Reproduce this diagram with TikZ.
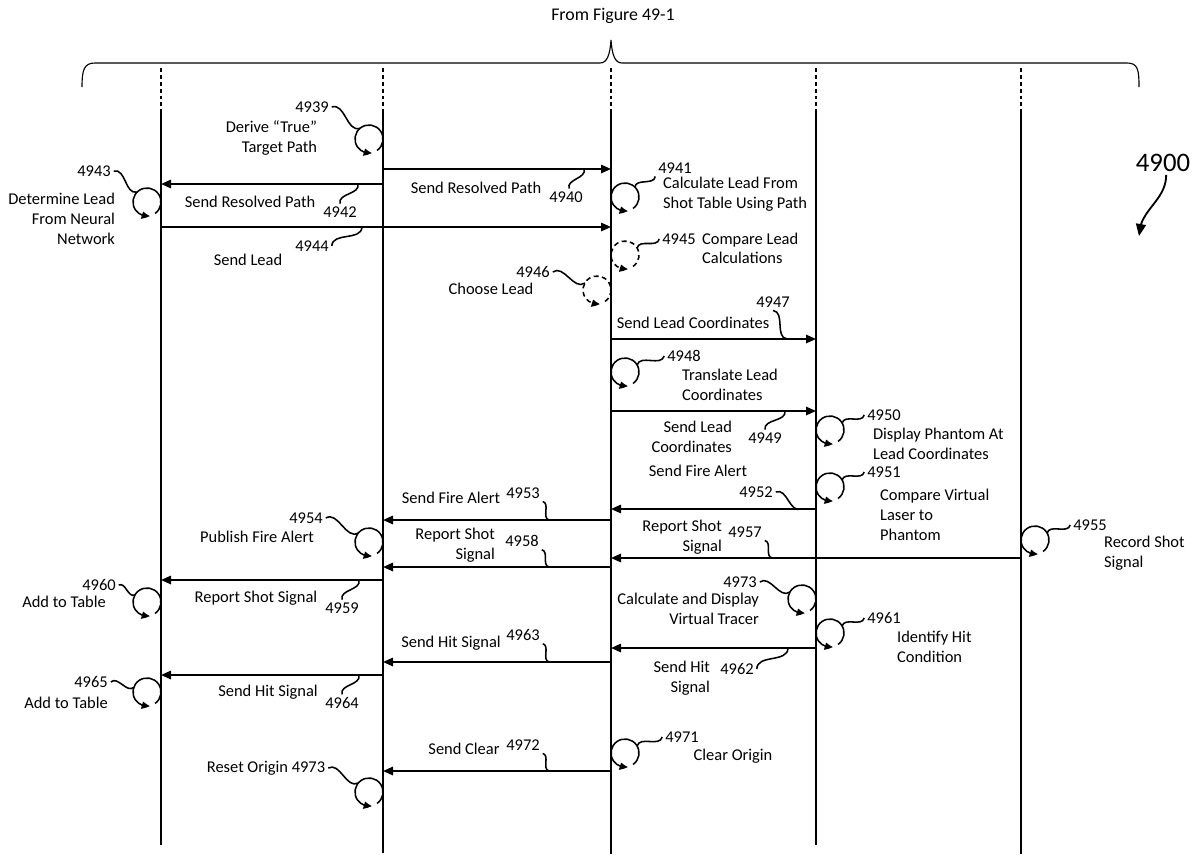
\documentclass[tikz,border=0pt]{standalone}
\usepackage{fontspec}
\setmainfont{Carlito}
\usetikzlibrary{arrows.meta,bending,calc}
\tikzset{
  >=Triangle,
  lbl/.style={font=\fontsize{11.7}{14}\selectfont, inner sep=2pt},
  bignum/.style={font=\fontsize{19}{22}\selectfont, inner sep=2pt},
  lifedash/.style={line width=0.8pt, dash pattern=on 2.8pt off 2.1pt},
  life/.style={line width=0.8pt},
  msg/.style={-{Triangle[length=0.25cm,width=0.21cm]}, line width=1.3pt},
  spot/.style={circle, minimum size=0.7cm, inner sep=0pt, outer sep=0pt},
  loopline/.style={-{Triangle[length=0.2cm,width=0.18cm,bend]}, line width=1.1pt},
  maybe/.style={dash pattern=on 3.5pt off 2.5pt},
  lead/.style={line width=1.1pt},
  brace/.style={line width=0.8pt}
}
\newcommand{\sendmsg}[3]{\draw[msg] (#1 |- 0,-#3) -- (#2 |- 0,-#3);}
\newcommand{\selfloop}[3][]{%
  \node[spot] (#2) at (#3) {};
  \draw[loopline,#1] (#2.-55) arc[start angle=-55, end angle=282, radius=0.35cm];}
\newcommand{\leader}[2]{%
  \draw[lead] (#1) .. controls ($(#1)!0.4!55:(#2)$) and ($(#2)!0.4!55:(#1)$) .. (#2);}

\begin{document}
\begin{tikzpicture}[x=0.025cm, y=0.025cm]
\useasboundingbox (0,0) rectangle (1201,-854);

% lifelines
\foreach \name/\x/\yend in {L1/161/845, L2/383/853, L3/611/854, L4/816/845, L5/1021/854} {
  \coordinate (\name) at (\x,-68);
  \coordinate (\name end) at (\x,-\yend);
  \draw[lifedash] (\name) -- (\x,-113);
  \draw[life] (\x,-113) -- (\name end);
}

% brace from previous sheet
\node[lbl, font=\fontsize{12.7}{15}\selectfont] (fig) at (613,-16) {From Figure 49-1};
\draw[brace] (82,-87) .. controls (82,-70) and (84,-63) .. (95,-63) -- (600,-63)
  .. controls (607,-63) and (610,-55) .. (611,-40)
  .. controls (612,-55) and (615,-63) .. (622,-63) -- (1127,-63)
  .. controls (1138,-63) and (1139,-70) .. (1139,-87);

\node[bignum] (n4900) at (1163,-163) {4900};
\coordinate (a4900) at (1139,-236);
\draw[-{Triangle[length=0.3cm,width=0.25cm]}, line width=1.3pt] (n4900.-75) to[out=-90, in=90] (a4900);

% messages
\sendmsg{L2}{L3}{169}
\sendmsg{L2}{L1}{184}
\sendmsg{L1}{L3}{227}
\sendmsg{L3}{L4}{339}
\sendmsg{L3}{L4}{411}
\sendmsg{L4}{L3}{509}
\sendmsg{L3}{L2}{520}
\sendmsg{L5}{L3}{558}
\sendmsg{L3}{L2}{567}
\sendmsg{L2}{L1}{580}
\sendmsg{L4}{L3}{648}
\sendmsg{L3}{L2}{662}
\sendmsg{L2}{L1}{675}
\sendmsg{L3}{L2}{771}

% self loops
\selfloop{c4939}{369,-139}
\selfloop{c4941}{625,-197}
\selfloop{c4943}{147,-202}
\selfloop[maybe]{c4945}{625,-255}
\selfloop[maybe]{c4946}{597,-290}
\selfloop{c4948}{625,-372}
\selfloop{c4950}{830,-430}
\selfloop{c4951}{830,-487}
\selfloop{c4954}{369,-542}
\selfloop{c4955}{1035,-540}
\selfloop{c4960}{147,-602}
\selfloop{c4965}{147,-692}
\selfloop{c4973a}{802,-599}
\selfloop{c4961}{830,-633}
\selfloop{c4971}{625,-753}
\selfloop{c4973b}{369,-792}

% texts
\node[lbl] (n4939) at (312,-107) {4939};
\node[lbl, align=right, anchor=east] (t4939) at (320,-138) {Derive “True”\\Target Path};
\node[lbl] (n4941) at (675,-168) {4941};
\node[lbl, align=left, anchor=west] (t4941) at (660,-194.5) {Calculate Lead From\\Shot Table Using Path};
\node[lbl] (t4940) at (476,-188) {Send Resolved Path};
\node[lbl] (n4940) at (566,-197) {4940};
\node[lbl] (t4942) at (250,-202) {Send Resolved Path};
\node[lbl] (n4942) at (340,-212) {4942};
\node[lbl] (n4943) at (94,-171) {4943};
\node[lbl, align=right, anchor=east] (t4943) at (118,-219) {Determine Lead\\From Neural\\Network};
\node[lbl] (n4944) at (312,-246) {4944};
\node[lbl] (t4944) at (248,-260) {Send Lead};
\node[lbl] (n4945) at (679,-239) {4945};
\node[lbl, align=left, anchor=west] (t4945) at (699,-248.5) {Compare Lead\\Calculations};
\node[lbl] (n4946) at (533,-272) {4946};
\node[lbl] (t4946) at (491,-289) {Choose Lead};
\node[lbl] (n4947) at (773,-302) {4947};
\node[lbl] (t4947) at (693,-323) {Send Lead Coordinates};
\node[lbl] (n4948) at (684,-356) {4948};
\node[lbl, align=left, anchor=west] (t4948) at (679,-385) {Translate Lead\\Coordinates};
\node[lbl] (n4949) at (765,-438) {4949};
\node[lbl, align=right, anchor=east] (t4949) at (735,-437) {Send Lead\\Coordinates};
\node[lbl] (n4950) at (884,-415) {4950};
\node[lbl, align=left, anchor=west] (t4950) at (870,-443.5) {Display Phantom At\\Lead Coordinates};
\node[lbl] (tfire) at (698,-471) {Send Fire Alert};
\node[lbl] (n4952) at (756,-492) {4952};
\node[lbl] (n4951) at (884,-472) {4951};
\node[lbl, align=left, anchor=west] (t4951) at (877,-515) {Compare Virtual\\Laser to\\Phantom};
\node[lbl] (t4953) at (451,-498) {Send Fire Alert};
\node[lbl] (n4953) at (523,-493) {4953};
\node[lbl] (n4954) at (306,-518) {4954};
\node[lbl] (t4954) at (257,-537) {Publish Fire Alert};
\node[lbl, align=right, anchor=east] (t4958) at (498,-545.5) {Report Shot\\Signal};
\node[lbl] (n4958) at (522,-541) {4958};
\node[lbl, align=right, anchor=east] (t4957) at (725,-537) {Report Shot\\Signal};
\node[lbl] (n4957) at (745,-532) {4957};
\node[lbl] (n4955) at (1090,-525) {4955};
\node[lbl, align=left, anchor=west] (t4955) at (1101,-553.5) {Record Shot\\Signal};
\node[lbl] (t4959) at (256,-598) {Report Shot Signal};
\node[lbl] (n4959) at (342,-608) {4959};
\node[lbl] (n4960) at (99,-585) {4960};
\node[lbl] (t4960) at (64,-602) {Add to Table};
\node[lbl] (n4973) at (740,-582) {4973};
\node[lbl, align=right, anchor=east] (t4973) at (762,-609) {Calculate and Display\\Virtual Tracer};
\node[lbl] (n4961) at (884,-618) {4961};
\node[lbl, align=left, anchor=west] (t4961) at (894,-647) {Identify Hit\\Condition};
\node[lbl] (t4963) at (451,-643) {Send Hit Signal};
\node[lbl] (n4963) at (523,-635) {4963};
\node[lbl, align=right, anchor=east] (t4962) at (713,-678) {Send Hit\\Signal};
\node[lbl] (n4962) at (737,-669) {4962};
\node[lbl] (t4964) at (268,-692) {Send Hit Signal};
\node[lbl] (n4964) at (342,-703) {4964};
\node[lbl] (n4965) at (91,-682) {4965};
\node[lbl] (t4965) at (66,-703) {Add to Table};
\node[lbl] (t4972) at (464,-749) {Send Clear};
\node[lbl] (n4972) at (523,-745) {4972};
\node[lbl] (n4971) at (682,-737) {4971};
\node[lbl] (t4971) at (733,-756) {Clear Origin};
\node[lbl] (treset) at (266,-768) {Reset Origin 4973};

% leader ends on the messages
\coordinate (e4940) at (584,-169);
\coordinate (e4942) at (358,-184);
\coordinate (e4944) at (362,-227);
\coordinate (e4947) at (787,-339);
\coordinate (e4949) at (785,-411);
\coordinate (e4952) at (801,-509);
\coordinate (e4953) at (549,-520);
\coordinate (e4957) at (772,-558);
\coordinate (e4958) at (549,-567);
\coordinate (e4959) at (359,-580);
\coordinate (e4962) at (788,-648);
\coordinate (e4963) at (549,-662);
\coordinate (e4964) at (359,-675);
\coordinate (e4972) at (549,-771);

% leaders
\leader{n4939.east}{c4939.130}
\leader{n4940.70}{e4940}
\leader{c4941.45}{n4941.south west}
\leader{n4942.north}{e4942}
\leader{n4943.east}{c4943.135}
\leader{n4944.east}{e4944}
\leader{c4945.30}{n4945.west}
\leader{n4946.east}{c4946.150}
\leader{n4947.south}{e4947}
\leader{c4948.30}{n4948.west}
\leader{n4949.north}{e4949}
\leader{c4950.30}{n4950.west}
\leader{c4951.30}{n4951.west}
\leader{n4952.east}{e4952}
\leader{n4953.south east}{e4953}
\leader{n4954.east}{c4954.140}
\leader{c4955.30}{n4955.west}
\leader{n4957.south east}{e4957}
\leader{n4958.south east}{e4958}
\leader{n4959.north}{e4959}
\leader{n4960.east}{c4960.150}
\leader{n4973.east}{c4973a.150}
\leader{c4961.30}{n4961.west}
\leader{n4962.east}{e4962}
\leader{n4963.south east}{e4963}
\leader{n4964.north}{e4964}
\leader{n4965.east}{c4965.160}
\leader{c4971.30}{n4971.west}
\leader{n4972.south east}{e4972}
\leader{treset.east}{c4973b.140}
\end{tikzpicture}
\end{document}
